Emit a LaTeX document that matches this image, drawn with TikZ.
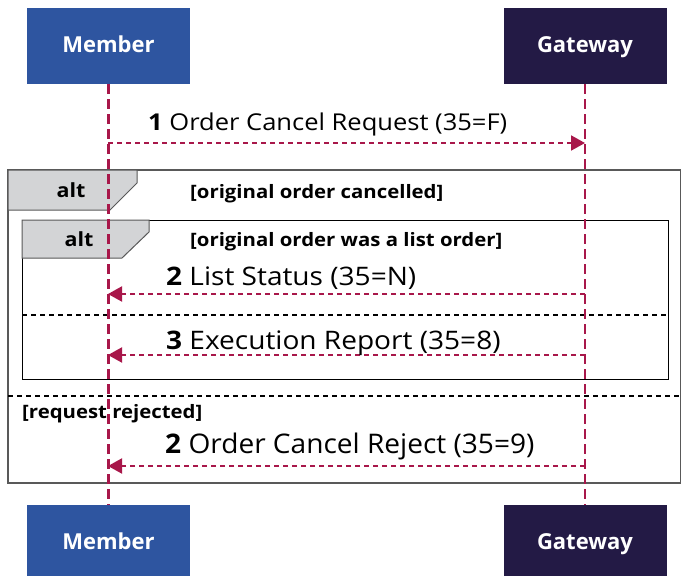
\documentclass[tikz,border=0pt]{standalone}
\usepackage{fontspec}
\setmainfont{Open Sans}
\newfontfamily\widefont{Open Sans}[FakeStretch=1.1]
\newfontfamily\midfont{Open Sans}[FakeStretch=1.04]
\usetikzlibrary{arrows.meta}
\definecolor{crim}{HTML}{A8174A}
\definecolor{mblue}{HTML}{2E55A0}
\definecolor{gdark}{HTML}{231A45}
\definecolor{tabgray}{HTML}{D3D4D6}
\definecolor{framegray}{HTML}{595959}
\tikzset{
  actor/.style={minimum width=163pt,minimum height=76pt,inner sep=0pt,text height=16pt,text depth=4pt,text=white,font=\fontsize{22}{24}\selectfont\bfseries},
  life/.style={draw=crim,line width=2.2pt,dash pattern=on 10pt off 5pt},
  msg/.style={draw=crim,line width=2pt,dash pattern=on 5pt off 4pt,-{Triangle[length=14pt,width=15pt]}},
  msglabel/.style={anchor=base west,inner sep=0pt,font=\widefont\fontsize{25.5}{28}\selectfont},
  guard/.style={anchor=base west,inner sep=0pt,font=\widefont\fontsize{18.5}{20}\selectfont\bfseries},
  altlabel/.style={inner sep=0pt,font=\widefont\fontsize{19.5}{22}\selectfont\bfseries},
  sep/.style={draw=black,line width=1.3pt,dash pattern=on 5pt off 4pt},
  tab/.style={fill=tabgray,draw=framegray,line width=1pt},
}
\begin{document}
\begin{tikzpicture}[x=1pt,y=-1pt]
\useasboundingbox (0,0) rectangle (681,576);
% frames
\draw[draw=framegray,line width=1.5pt] (8,170) rectangle (681,483);
\draw[draw=framegray,line width=2.2pt] (8,170) -- (681,170);
\draw[tab] (8,170) -- (137,170) -- (137,183) -- (110,210) -- (8,210) -- cycle;
\node[altlabel] (alt1) at (71,190) {alt};
\node[guard] (g1) at (190,198) {[original order cancelled]};
\draw[black,line width=1pt,fill=white] (22,220) rectangle (668,379);
\draw[tab] (22,220) -- (149,220) -- (149,232) -- (122,258) -- (22,258) -- cycle;
\node[altlabel] (alt2) at (79,239) {alt};
\node[guard] (g2) at (190,246) {[original order was a list order]};
\coordinate (s1a) at (22,315);
\coordinate (s1b) at (668,315);
\draw[sep] (s1a) -- (s1b);
\coordinate (s2a) at (8,396);
\coordinate (s2b) at (681,396);
\draw[sep] (s2a) -- (s2b);
\node[guard] (g3) at (22,418) {[request rejected]};
% actors
\node[actor,fill=mblue] (m1) at (108.5,46) {Member};
\node[actor,fill=gdark] (gw1) at (585,46) {Gateway};
\node[actor,fill=mblue] (m2) at (108.5,543) {Member};
\node[actor,fill=gdark] (gw2) at (585,543) {Gateway};
% lifelines
\draw[life] (m1.south) -- (m2.north);
\draw[life] (gw1.south) -- (gw2.north);
% messages
\coordinate (ma) at (108,143); \coordinate (ga) at (585,143);
\draw[msg] (ma) -- (ga);
\node[msglabel,font=\widefont\fontsize{23.2}{26}\selectfont] (l1) at (148,130) {\textbf{1} Order Cancel Request (35=F)};
\coordinate (mb) at (108,294); \coordinate (gb) at (585,294);
\draw[msg] (gb) -- (mb);
\node[msglabel] (l2) at (166,285) {\textbf{2} List Status (35=N)};
\coordinate (mc) at (108,355); \coordinate (gc) at (585,355);
\draw[msg] (gc) -- (mc);
\node[msglabel] (l3) at (166,349) {\textbf{3} Execution Report (35=8)};
\coordinate (md) at (108,466); \coordinate (gd) at (585,466);
\draw[msg] (gd) -- (md);
\node[msglabel,font=\midfont\fontsize{27}{30}\selectfont] (l4) at (165,453) {\textbf{2} Order Cancel Reject (35=9)};
\end{tikzpicture}
\end{document}
